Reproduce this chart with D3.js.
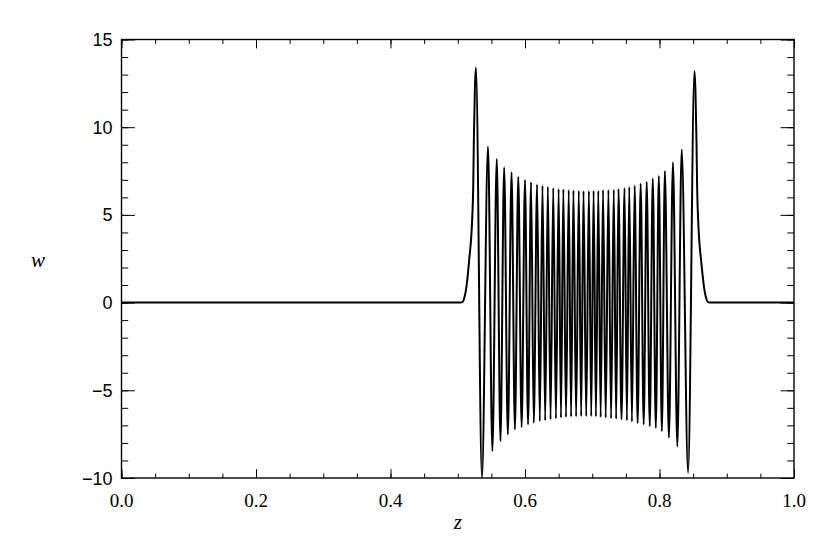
<!DOCTYPE html>
<html>
<head>
<meta charset="utf-8">
<script src="https://cdn.jsdelivr.net/npm/d3@7/dist/d3.min.js"></script>
<style>
  body { margin: 0; background: #fff; }
  svg { display: block; }
</style>
</head>
<body>
<div class="main"></div>
<script>
// Data: flat tails, the two flanks and every extremum
const tailLeftZ  = [0.0, 0.504, 0.5075, 0.510, 0.5125, 0.515, 0.5174, 0.520, 0.5215, 0.523, 0.524, 0.5255];
const tailLeftW  = [0, 0, 0.05, 0.3, 0.8, 1.6, 2.6, 3.7, 4.8, 6.6, 9.4, 12.2];

const maxZ = [0.527, 0.545, 0.558, 0.569, 0.580, 0.590, 0.600, 0.609, 0.618, 0.626,
              0.634, 0.642, 0.650, 0.657, 0.665, 0.672, 0.680, 0.687, 0.695, 0.702,
              0.709, 0.716, 0.724, 0.732, 0.739, 0.748, 0.755, 0.763, 0.772, 0.781,
              0.790, 0.799, 0.808, 0.820, 0.833, 0.852];
const maxW = [13.4, 8.9, 8.19, 7.71, 7.43, 7.18, 6.99, 6.86, 6.73, 6.67,
              6.61, 6.53, 6.48, 6.46, 6.42, 6.40, 6.38, 6.36, 6.36, 6.38,
              6.38, 6.42, 6.42, 6.44, 6.48, 6.53, 6.59, 6.67, 6.78, 6.88,
              7.07, 7.22, 7.5, 8.0, 8.73, 13.2];

const minZ = [0.536, 0.5515, 0.5635, 0.5745, 0.585, 0.595, 0.6045, 0.613, 0.622, 0.630,
              0.638, 0.646, 0.6535, 0.661, 0.6685, 0.676, 0.6835, 0.691, 0.6985, 0.7055,
              0.7125, 0.720, 0.728, 0.7355, 0.7435, 0.7515, 0.759, 0.7675, 0.7765, 0.7855,
              0.7945, 0.8035, 0.814, 0.8265, 0.8425];
const minW = [-10.0, -8.47, -7.90, -7.52, -7.24, -7.10, -6.95, -6.86, -6.76, -6.72,
              -6.67, -6.61, -6.57, -6.53, -6.51, -6.50, -6.48, -6.48, -6.48, -6.50,
              -6.53, -6.57, -6.61, -6.63, -6.67, -6.72, -6.80, -6.88, -6.95, -7.05,
              -7.15, -7.33, -7.7, -8.2, -9.7];

const tailRightZ = [0.8535, 0.855, 0.856, 0.8575, 0.859, 0.8616, 0.864, 0.8665, 0.869, 0.8715, 0.875, 1.0];
const tailRightW = [12.0, 9.2, 6.5, 4.7, 3.6, 2.5, 1.6, 0.8, 0.3, 0.05, 0, 0];

const xTicks = [0.0, 0.2, 0.4, 0.6, 0.8, 1.0];
const yTicks = [-10, -5, 0, 5, 10, 15];

//Variables
const width = 830,
      height = 554,
      margin = {top: 39.5, left: 121.5, bottom: 76, right: 36},
      innerWidth = width - margin.left - margin.right,
      innerHeight = height - margin.top - margin.bottom;

//Build the point list
const points = [];
tailLeftZ.forEach((z, i) => points.push([z, tailLeftW[i]]));
maxZ.forEach((z, i) => {
  points.push([z, maxW[i]]);
  if (i < minZ.length) points.push([minZ[i], minW[i]]);
});
tailRightZ.forEach((z, i) => points.push([z, tailRightW[i]]));

//Canvas
const svg = d3.select('.main')
              .append('svg')
              .attr('width', width)
              .attr('height', height);

const g = svg.append('g')
             .attr('transform', `translate(${margin.left}, ${margin.top})`);

//Scales
const xScale = d3.scaleLinear().domain([0, 1]).range([0, innerWidth]);
const yScale = d3.scaleLinear().domain([-10, 15]).range([innerHeight, 0]);

//Clip
g.append('clipPath').attr('id', 'clip')
 .append('rect').attr('width', innerWidth).attr('height', innerHeight);

//Curve
const line = d3.line()
               .x(d => xScale(d[0]))
               .y(d => yScale(d[1]))
               .curve(d3.curveMonotoneX);

g.append('path')
 .datum(points)
 .attr('clip-path', 'url(#clip)')
 .attr('fill', 'none')
 .attr('stroke', '#000')
 .attr('stroke-width', 2.0)
 .attr('stroke-linejoin', 'round')
 .attr('d', line);

//Axes (ticks point inward, like IDL) - tick marks from d3 axes
const xMajor = 8.8, xMinor = 4.4, yMajor = 13.4, yMinor = 6.7;
const xMinorTicks = d3.range(0, 21).map(i => i * 0.05);
const yMinorTicks = d3.range(-10, 16);

function ticksOnly(sel) {
  sel.select('.domain').remove();
  sel.selectAll('line').attr('stroke', '#000').attr('stroke-width', 1);
  sel.selectAll('text').remove();
}

[[xMinorTicks, xMinor], [xTicks, xMajor]].forEach(([vals, len]) => {
  g.append('g').attr('transform', `translate(0, ${innerHeight})`)
   .call(d3.axisBottom(xScale).tickValues(vals).tickSize(-len))
   .call(ticksOnly);
  g.append('g')
   .call(d3.axisTop(xScale).tickValues(vals).tickSize(-len))
   .call(ticksOnly);
});
[[yMinorTicks, yMinor], [yTicks, yMajor]].forEach(([vals, len]) => {
  g.append('g')
   .call(d3.axisLeft(yScale).tickValues(vals).tickSize(-len))
   .call(ticksOnly);
  g.append('g').attr('transform', `translate(${innerWidth}, 0)`)
   .call(d3.axisRight(yScale).tickValues(vals).tickSize(-len))
   .call(ticksOnly);
});

//Tick labels
const fmtX = d3.format('.1f'), fmtY = d3.format('d');

g.append('g').attr('id', 'x-labels')
 .selectAll('text')
 .data(xTicks)
 .enter()
 .append('text')
 .attr('x', d => xScale(d))
 .attr('y', innerHeight + 29)
 .attr('text-anchor', 'middle')
 .attr('font-family', '"Liberation Serif", serif')
 .attr('font-size', 19)
 .text(d => fmtX(d));

g.append('g').attr('id', 'y-labels')
 .selectAll('text')
 .data(yTicks)
 .enter()
 .append('text')
 .attr('x', -9)
 .attr('y', d => yScale(d) + 6.5)
 .attr('text-anchor', 'end')
 .attr('font-family', '"Liberation Sans", sans-serif')
 .attr('font-size', 18)
 .text(d => fmtY(d));

//Frame
g.append('rect')
 .attr('width', innerWidth)
 .attr('height', innerHeight)
 .attr('fill', 'none')
 .attr('stroke', '#000')
 .attr('stroke-width', 1.4);

//Titles
svg.append('text')
   .attr('x', margin.left + innerWidth / 2)
   .attr('y', 529)
   .attr('text-anchor', 'middle')
   .attr('font-family', '"Liberation Serif", serif')
   .attr('font-style', 'italic')
   .attr('font-size', 21)
   .text('z');

svg.append('text')
   .attr('x', 38)
   .attr('y', 267)
   .attr('text-anchor', 'middle')
   .attr('font-family', '"Liberation Serif", serif')
   .attr('font-style', 'italic')
   .attr('font-size', 21)
   .text('w');
</script>
</body>
</html>
